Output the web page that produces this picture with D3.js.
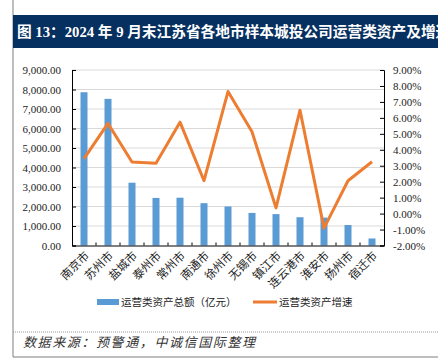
<!DOCTYPE html>
<html>
<head>
<meta charset="utf-8">
<script src="https://cdn.jsdelivr.net/npm/d3@7"></script>
<style>
body{margin:0;background:#fff;}
svg{display:block;}
</style>
</head>
<body>
<svg width="438" height="362"></svg>
<script>
var cities=["南京市","苏州市","盐城市","泰州市","常州市","南通市","徐州市","无锡市","镇江市","连云港市","淮安市","扬州市","宿迁市"];
var assets=[7860,7520,3220,2440,2450,2170,2000,1670,1610,1450,1430,1050,360];
var growth=[3.44,5.65,3.23,3.15,5.73,2.06,7.65,5.13,0.36,6.48,-0.91,2.06,3.25];
var leftTicks=[0,1000,2000,3000,4000,5000,6000,7000,8000,9000];
var rightTicks=[-2,-1,0,1,2,3,4,5,6,7,8,9];

var svg=d3.select("svg");
var serif="'Liberation Serif','Times New Roman',serif";
var cjk="'Liberation Serif','Noto Sans CJK SC',serif";

var plotL=72,plotR=384,plotT=70,plotB=245.5;

// frame
svg.append("line").attr("x1",13).attr("x2",13).attr("y1",0).attr("y2",357)
  .attr("stroke","#7f7f7f").attr("stroke-width",1);
svg.append("line").attr("x1",13).attr("x2",438).attr("y1",357).attr("y2",357)
  .attr("stroke","#7f7f7f").attr("stroke-width",1);
svg.append("line").attr("x1",13).attr("x2",438).attr("y1",332).attr("y2",332)
  .attr("stroke","#999").attr("stroke-width",1).attr("stroke-dasharray","1,1");

// title bar
svg.append("rect").attr("x",13).attr("y",15).attr("width",425).attr("height",33)
  .attr("fill","#06305f");
svg.append("text").attr("x",17).attr("y",37)
  .attr("fill","#fff").attr("font-weight","bold")
  .style("font-family",cjk).style("font-size","14.7px")
  .text("图 13：2024 年 9 月末江苏省各地市样本城投公司运营类资产及增速");

var x=d3.scaleBand().domain(cities).range([plotL,plotR]).paddingInner(0).paddingOuter(0);
var y=d3.scaleLinear().domain([0,9000]).range([plotB,plotT]);
var y2=d3.scaleLinear().domain([-2,9]).range([plotB,plotT]);

// grid
svg.append("g").selectAll("line").data(leftTicks.slice(1)).enter().append("line")
  .attr("x1",plotL).attr("x2",plotR)
  .attr("y1",d=>y(d)).attr("y2",d=>y(d))
  .attr("stroke","#d9d9d9").attr("stroke-width",1);

// bars
var bw=7;
svg.append("g").selectAll("rect").data(cities).enter().append("rect")
  .attr("x",(d)=>x(d)+x.bandwidth()/2-bw/2)
  .attr("y",(d,i)=>y(assets[i]))
  .attr("width",bw)
  .attr("height",(d,i)=>plotB-y(assets[i]))
  .attr("fill","#5b9bd5");

// line
var line=d3.line().x((d,i)=>x(cities[i])+x.bandwidth()/2).y(d=>y2(d));
svg.append("path").datum(growth).attr("d",line)
  .attr("fill","none").attr("stroke","#ed7d31").attr("stroke-width",3)
  .attr("stroke-linejoin","round");

// axes
var yaxis=d3.axisLeft(y).tickValues(leftTicks).tickSize(-4).tickPadding(11)
  .tickFormat(d=>d3.format(",.2f")(d));
var ga=svg.append("g").attr("transform","translate("+plotL+",0)").call(yaxis);
var yaxis2=d3.axisRight(y2).tickValues(rightTicks).tickSize(-4).tickPadding(9)
  .tickFormat(d=>d.toFixed(2)+"%");
var gb=svg.append("g").attr("transform","translate("+plotR+",0)").call(yaxis2);
var xaxis=d3.axisBottom(x).tickSize(0).tickFormat("");
var gc=svg.append("g").attr("transform","translate(0,"+plotB+")").call(xaxis);
[ga,gb,gc].forEach(function(g){
  g.select(".domain").attr("stroke","#000");
  g.selectAll(".tick line").attr("stroke","#000");
  g.selectAll("text").style("font-family",serif).style("font-size","11px").attr("fill","#222");
});
// category separator ticks
svg.append("g").selectAll("line").data(cities.slice(1)).enter().append("line")
  .attr("x1",d=>x(d)).attr("x2",d=>x(d))
  .attr("y1",plotB).attr("y2",plotB-3)
  .attr("stroke","#000");

// x labels
svg.append("g").selectAll("text").data(cities).enter().append("text")
  .attr("transform",d=>"translate("+(x(d)+x.bandwidth()/2+3)+","+(plotB+8)+") rotate(-45)")
  .attr("text-anchor","end")
  .attr("dy","0.35em")
  .style("font-family","'Noto Sans CJK SC',serif").style("font-size","11.5px")
  .attr("fill","#222")
  .text(d=>d);

// legend
svg.append("rect").attr("x",97).attr("y",299).attr("width",22).attr("height",6).attr("fill","#5b9bd5");
svg.append("text").attr("x",121).attr("y",306)
  .style("font-family","'Noto Sans CJK SC',serif").style("font-size","10.5px").attr("fill","#222")
  .text("运营类资产总额（亿元）");
svg.append("line").attr("x1",253).attr("x2",277).attr("y1",302).attr("y2",302)
  .attr("stroke","#ed7d31").attr("stroke-width",3);
svg.append("text").attr("x",279).attr("y",306)
  .style("font-family","'Noto Sans CJK SC',serif").style("font-size","10.5px").attr("fill","#222")
  .text("运营类资产增速");

// source
svg.append("text").attr("x",23).attr("y",347)
  .style("font-family","'Noto Sans CJK SC',serif").style("font-size","13px")
  .style("font-style","italic").style("letter-spacing","1.6px").attr("fill","#333")
  .text("数据来源：预警通，中诚信国际整理");
</script>
</body>
</html>
